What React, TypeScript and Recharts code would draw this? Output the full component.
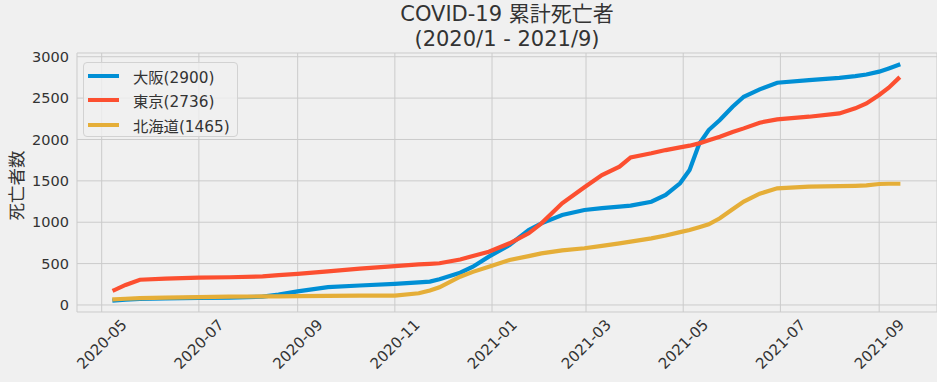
import React from 'react';
import { LineChart, Line, XAxis, YAxis, CartesianGrid, Legend } from 'recharts';

// cumulative deaths
const dates = [
  '2020-05-09', '2020-05-16', '2020-05-25', '2020-06-10', '2020-07-01', '2020-07-20',
  '2020-08-10', '2020-08-20', '2020-09-01', '2020-09-20', '2020-10-10', '2020-11-01',
  '2020-11-16', '2020-11-23', '2020-11-29', '2020-12-12', '2020-12-20', '2020-12-30',
  '2021-01-12', '2021-01-24', '2021-02-01', '2021-02-14', '2021-02-28', '2021-03-11',
  '2021-03-22', '2021-03-29', '2021-04-11', '2021-04-20', '2021-04-29', '2021-05-05',
  '2021-05-11', '2021-05-17', '2021-05-24', '2021-06-01', '2021-06-08', '2021-06-18',
  '2021-06-29', '2021-07-19', '2021-08-07', '2021-08-17', '2021-08-24', '2021-09-01',
  '2021-09-07', '2021-09-13',
];

const osaka = [
  55, 65, 72, 80, 85, 88, 100, 125, 165, 215, 235, 254, 272, 282, 310, 390, 463, 584,
  725, 906, 987, 1087, 1148, 1170, 1188, 1200, 1248, 1329, 1470, 1631, 1945, 2114, 2235,
  2396, 2516, 2605, 2686, 2718, 2745, 2765, 2785, 2820, 2859, 2900,
];

const tokyo = [
  180, 242, 305, 318, 330, 335, 345, 360, 375, 405, 440, 470, 490, 497, 504, 550, 592, 644,
  745, 866, 987, 1228, 1422, 1570, 1671, 1784, 1833, 1872, 1905, 1925, 1953, 1990, 2033,
  2090, 2134, 2203, 2243, 2275, 2315, 2376, 2436, 2537, 2625, 2736,
];

const hokkaido = [
  68, 75, 82, 88, 95, 100, 103, 105, 108, 110, 112, 113, 141, 175, 214, 342, 400, 463,
  544, 590, 624, 660, 685, 715, 745, 765, 805, 840, 880, 905, 940, 975, 1047, 1156, 1250,
  1345, 1410, 1429, 1437, 1440, 1445, 1462, 1465, 1465,
];

const tickMonths = [
  '2020-05', '2020-07', '2020-09', '2020-11', '2021-01', '2021-03', '2021-05', '2021-07', '2021-09',
];
const yTicks = [0, 500, 1000, 1500, 2000, 2500, 3000];

const FONT = "'DejaVu Sans', 'Noto Sans CJK JP', sans-serif";
const TEXT = '#333333';

const toTime = (d: string) => {
  const [y, m, day] = d.split('-').map(Number);
  return Date.UTC(y, m - 1, day || 1);
};

const data = dates.map((d, i) => ({
  t: toTime(d),
  osaka: osaka[i],
  tokyo: tokyo[i],
  hokkaido: hokkaido[i],
}));

const series = [
  { key: 'osaka', name: '大阪', color: '#008fd5', values: osaka },
  { key: 'tokyo', name: '東京', color: '#fc4f30', values: tokyo },
  { key: 'hokkaido', name: '北海道', color: '#e5ae38', values: hokkaido },
];

const xDomain = [Date.UTC(2020, 3, 15, 12), Date.UTC(2021, 9, 7, 7)];

const DateTick = (props: any) => {
  const { x, y, payload } = props;
  const d = new Date(payload.value);
  const label = `${d.getUTCFullYear()}-${String(d.getUTCMonth() + 1).padStart(2, '0')}`;
  return (
    <g transform={`translate(${x},${y + 30})`}>
      <text
        transform="rotate(-45)"
        textAnchor="middle"
        dy="0.36em"
        fill={TEXT}
        fontSize={15}
        fontFamily={FONT}
      >
        {label}
      </text>
    </g>
  );
};

const LegendBox = () => (
  <div
    style={{
      boxSizing: 'border-box',
      width: 155,
      height: 75,
      border: '1px solid #d2d2d2',
      borderRadius: 4,
      background: 'rgba(240,240,240,0.8)',
      padding: '0.5px 0 0 4px',
      fontFamily: FONT,
      fontSize: 15.3,
      color: TEXT,
      textAlign: 'left',
    }}
  >
    {series.map((s) => (
      <div key={s.key} style={{ display: 'flex', alignItems: 'center', height: 24.5 }}>
        <span style={{ display: 'inline-block', width: 31, height: 4, background: s.color, marginRight: 14 }} />
        <span>{`${s.name}(${s.values[s.values.length - 1]})`}</span>
      </div>
    ))}
  </div>
);

export default function App() {
  return (
    <div
      style={{
        position: 'absolute',
        left: 0,
        top: 0,
        width: 937,
        height: 382,
        background: '#f0f0f0',
        overflow: 'hidden',
      }}
    >
      <div
        style={{
          position: 'absolute',
          left: 77,
          top: 2,
          width: 860,
          textAlign: 'center',
          fontFamily: FONT,
          fontSize: 21,
          lineHeight: '25px',
          color: TEXT,
        }}
      >
        <div>COVID-19 累計死亡者</div>
        <div>(2020/1 - 2021/9)</div>
      </div>
      <LineChart
        width={937}
        height={382}
        data={data}
        margin={{ top: 53, right: 0, bottom: 0, left: 0 }}
      >
        <CartesianGrid stroke="#cbcbcb" strokeWidth={1} />
        <XAxis
          dataKey="t"
          type="number"
          domain={xDomain}
          ticks={tickMonths.map(toTime)}
          interval={0}
          allowDataOverflow
          tickLine={false}
          axisLine={false}
          tickSize={0}
          height={70}
          tick={<DateTick />}
        />
        <YAxis
          type="number"
          domain={[-85, 3045]}
          ticks={yTicks}
          interval={0}
          allowDataOverflow
          tickLine={false}
          axisLine={false}
          width={77}
          tick={{ fill: TEXT, fontSize: 14.5, fontFamily: FONT }}
          label={{
            value: '死亡者数',
            angle: -90,
            position: 'center',
            dx: -22,
            dy: 3,
            fill: TEXT,
            fontSize: 17.5,
            fontFamily: FONT,
          }}
        />
        <Legend
          layout="horizontal"
          verticalAlign="middle"
          align="center"
          content={<LegendBox />}
          wrapperStyle={{ left: 83, top: 62, width: 155, height: 75 }}
        />
        {series.map((s) => (
          <Line
            key={s.key}
            type="linear"
            dataKey={s.key}
            name={s.name}
            stroke={s.color}
            strokeWidth={4.2}
            strokeLinecap="square"
            dot={false}
            activeDot={false}
            isAnimationActive={false}
          />
        ))}
      </LineChart>
    </div>
  );
}
